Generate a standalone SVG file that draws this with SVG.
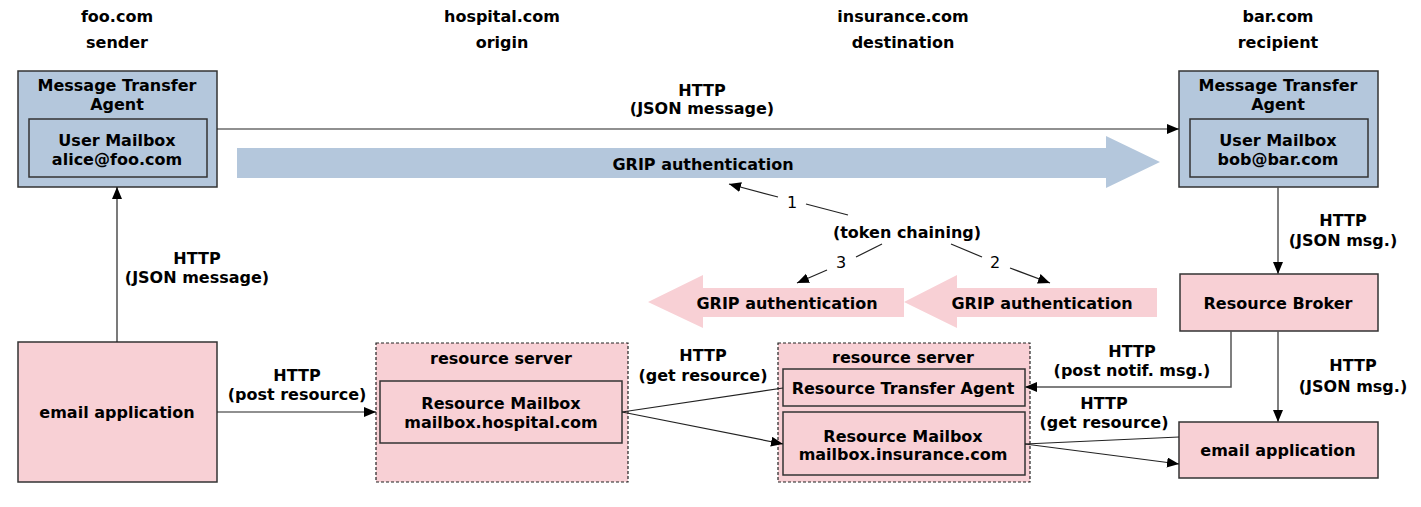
<svg xmlns="http://www.w3.org/2000/svg" width="1421" height="507" viewBox="0 0 1421 507">
<style>
text{font-family:"DejaVu Sans","Liberation Sans",sans-serif;font-size:16px;font-weight:bold;fill:#000;text-anchor:middle;transform:translateY(1px)}
.num{font-weight:normal}
.blue{fill:#b4c7dc;stroke:#333;stroke-width:1.5}
.pink{fill:#f8d0d5;stroke:#333;stroke-width:1.5}
.dash{fill:#f8d0d5;stroke:#222;stroke-width:1.2;stroke-dasharray:3,2}
.c{fill:none;stroke:#222;stroke-width:1.2}
.g{fill:none;stroke:#555;stroke-width:1.5}
</style>
<defs>
<marker id="ah" markerUnits="userSpaceOnUse" markerWidth="14" markerHeight="12" refX="12" refY="5" orient="auto">
<path d="M0,0 L12,5 L0,10 Z" fill="#000"/>
</marker>
</defs>
<rect width="1421" height="507" fill="#fff"/>
<g id="labels-top">
<text x="117" y="21">foo.com</text><text x="117" y="47">sender</text>
<text x="502" y="21">hospital.com</text><text x="502" y="47">origin</text>
<text x="903" y="21">insurance.com</text><text x="903" y="47">destination</text>
<text x="1278" y="21">bar.com</text><text x="1278" y="47">recipient</text>
</g>
<g id="grip-arrows">
<polygon points="237,148 1106,148 1106,136 1160,162 1106,188 1106,178 237,178" fill="#b4c7dc"/>
<text x="703" y="169">GRIP authentication</text>
<polygon points="904,288 703,288 703,275 648,302 703,328 703,317 904,317" fill="#f8d0d5"/>
<text x="787" y="308">GRIP authentication</text>
<polygon points="1157,288 957,288 957,275 904,302 957,328 957,317 1157,317" fill="#f8d0d5"/>
<text x="1042" y="308">GRIP authentication</text>
</g>
<g id="mta-sender">
<rect class="blue" x="18" y="71" width="199" height="116"/>
<text x="117" y="90">Message Transfer</text><text x="117" y="109">Agent</text>
<rect class="blue" x="29" y="119" width="178" height="58"/>
<text x="117" y="145">User Mailbox</text><text x="117" y="164">alice@foo.com</text>
</g>
<g id="mta-recipient">
<rect class="blue" x="1179" y="71" width="199" height="116"/>
<text x="1278" y="90">Message Transfer</text><text x="1278" y="109">Agent</text>
<rect class="blue" x="1190" y="119" width="178" height="58"/>
<text x="1278" y="145">User Mailbox</text><text x="1278" y="164">bob@bar.com</text>
</g>
<g id="email-app-sender">
<rect class="pink" x="18" y="342" width="199" height="140"/>
<text x="117" y="417">email application</text>
</g>
<g id="rs-hospital">
<rect class="dash" x="376" y="343" width="252" height="139"/>
<text x="501" y="363">resource server</text>
<rect class="pink" x="380" y="381" width="242" height="62"/>
<text x="501" y="408">Resource Mailbox</text><text x="501" y="427">mailbox.hospital.com</text>
</g>
<g id="rs-insurance">
<rect class="dash" x="778" y="343" width="252" height="139"/>
<text x="903" y="362">resource server</text>
<rect class="pink" x="783" y="369" width="242" height="37"/>
<text x="903" y="393">Resource Transfer Agent</text>
<rect class="pink" x="783" y="412" width="242" height="63"/>
<text x="903" y="441">Resource Mailbox</text><text x="903" y="459">mailbox.insurance.com</text>
</g>
<g id="resource-broker">
<rect class="pink" x="1180" y="274" width="198" height="57"/>
<text x="1278" y="308">Resource Broker</text>
</g>
<g id="email-app-recipient">
<rect class="pink" x="1179" y="422" width="199" height="56"/>
<text x="1278" y="455">email application</text>
</g>
<g id="connectors">
<line class="c" x1="217" y1="129" x2="1179" y2="129" marker-end="url(#ah)"/>
<text x="702" y="95">HTTP</text><text x="702" y="113">(JSON message)</text>
<line class="c" x1="117" y1="342" x2="117" y2="187" marker-end="url(#ah)"/>
<text x="197" y="263">HTTP</text><text x="197" y="282">(JSON message)</text>
<line class="g" x1="1278" y1="187" x2="1278" y2="274" marker-end="url(#ah)"/>
<text x="1343" y="225">HTTP</text><text x="1343" y="245">(JSON msg.)</text>
<line class="g" x1="1278" y1="331" x2="1278" y2="422" marker-end="url(#ah)"/>
<text x="1353" y="370">HTTP</text><text x="1353" y="391">(JSON msg.)</text>
<polyline class="g" points="1231,331 1231,387 1025,387" marker-end="url(#ah)"/>
<text x="1132" y="356">HTTP</text><text x="1132" y="375">(post notif. msg.)</text>
<line class="c" x1="217" y1="412" x2="376" y2="412" marker-end="url(#ah)"/>
<text x="297" y="380">HTTP</text><text x="297" y="399">(post resource)</text>
<line class="c" x1="622" y1="412" x2="783" y2="388"/>
<line class="c" x1="622" y1="412" x2="783" y2="444" marker-end="url(#ah)"/>
<text x="703" y="360">HTTP</text><text x="703" y="380">(get resource)</text>
<line class="c" x1="1025" y1="444" x2="1179" y2="437"/>
<line class="c" x1="1025" y1="444" x2="1179" y2="464" marker-end="url(#ah)"/>
<text x="1104" y="408">HTTP</text><text x="1104" y="427">(get resource)</text>
<text x="907" y="237">(token chaining)</text>
<line class="c" x1="848" y1="215" x2="806" y2="204"/>
<line class="c" x1="778" y1="197" x2="729" y2="184" marker-end="url(#ah)"/>
<text class="num" x="792" y="207">1</text>
<line class="c" x1="882" y1="244" x2="856" y2="257"/>
<line class="c" x1="827" y1="270" x2="797" y2="283" marker-end="url(#ah)"/>
<text class="num" x="841" y="267">3</text>
<line class="c" x1="951" y1="244" x2="982" y2="257"/>
<line class="c" x1="1010" y1="268" x2="1050" y2="283" marker-end="url(#ah)"/>
<text class="num" x="995" y="267">2</text>
</g>
</svg>
